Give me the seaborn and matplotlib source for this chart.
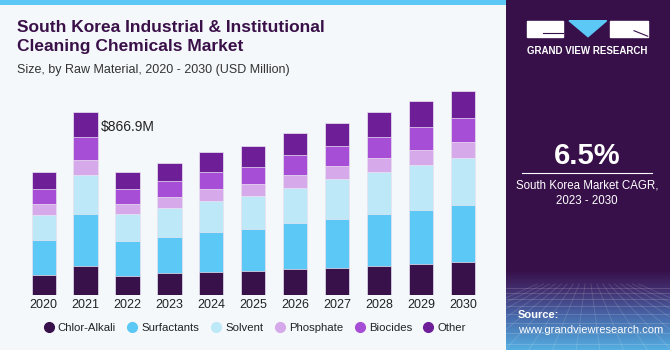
import numpy as np
import pandas as pd
import matplotlib
matplotlib.use('Agg')
import matplotlib.pyplot as plt
import seaborn as sns
from matplotlib.patches import Rectangle, Polygon
from matplotlib.lines import Line2D
from matplotlib.colors import to_rgb

# data (USD Million)
years = ['2020', '2021', '2022', '2023', '2024', '2025', '2026', '2027', '2028', '2029', '2030']
chlor_alkali = [94.6, 138.6, 91.3, 102.6, 108.8, 113.5, 123.0, 129.1, 138.6, 146.6, 154.7]
surfactants = [165.6, 244.5, 164.1, 173.6, 189.2, 198.7, 219.0, 231.8, 244.5, 256.8, 272.9]
solvent = [116.8, 184.5, 127.7, 137.2, 146.6, 154.7, 165.6, 187.8, 197.2, 212.9, 220.9]
phosphate = [52.0, 71.0, 45.9, 48.7, 55.3, 56.8, 60.1, 61.5, 66.2, 67.6, 74.3]
biocides = [72.4, 107.4, 71.0, 77.1, 83.7, 83.7, 94.6, 96.0, 102.6, 110.2, 113.5]
other = [80.4, 120.9, 81.8, 83.7, 91.3, 97.9, 105.5, 107.4, 114.9, 123.0, 129.1]

segments = ['Chlor-Alkali', 'Surfactants', 'Solvent', 'Phosphate', 'Biocides', 'Other']
colors = ['#38104a', '#5bc8f5', '#bde8f8', '#d5a9ea', '#a64fd6', '#6e1f98']
label_year = '2021'
label_text = '$866.9M'

df = pd.DataFrame({'year': years, 'Chlor-Alkali': chlor_alkali, 'Surfactants': surfactants,
                   'Solvent': solvent, 'Phosphate': phosphate, 'Biocides': biocides, 'Other': other})
cum = df[segments].cumsum(axis=1)

bg = '#f4f8fb'
dark = '#3a1048'
plt.rcParams['font.family'] = ['Liberation Sans', 'DejaVu Sans']

fig = plt.figure(figsize=(6.7, 3.5), dpi=100, facecolor=bg)
W, H = 670, 350

# chart axes
ax = fig.add_axes([22.75 / W, 1 - 295 / H, 461 / W, 211.4 / H])
ax.set_facecolor(bg)
# stacked bars: draw cumulative totals from the top layer down
for seg, col in zip(segments[::-1], colors[::-1]):
    sns.barplot(x=df['year'], y=cum[seg], color=col, saturation=1, width=0.58, errorbar=None,
                edgecolor='#ece6f2', linewidth=0.5, ax=ax, order=years)
ax.set_xlim(-0.5, 10.5)
ax.set_ylim(0, 1000)
ax.set_xlabel('')
ax.set_ylabel('')
ax.set_yticks([])
ax.tick_params(axis='x', length=0, pad=3, labelsize=9, labelcolor='#222222')
for s in ax.spines.values():
    s.set_visible(False)
i = years.index(label_year)
ax.annotate(label_text, xy=(i + 0.37, cum['Other'][i] - 70), xycoords='data',
            fontsize=10, color='#222222', ha='left', va='center')

# legend
handles = [Line2D([], [], marker='o', linestyle='', markersize=7, markerfacecolor=c,
                  markeredgecolor=c) for c in colors]
fig.legend(handles, segments, loc='center', bbox_to_anchor=(255 / W, 1 - 328 / H), ncol=6,
           frameon=False, fontsize=8.2, handlelength=0.8, handletextpad=0.4, columnspacing=1.05,
           labelcolor='#222222')

# title block
fig.text(17 / W, 1 - 27 / H, 'South Korea Industrial & Institutional', fontsize=12.5,
         fontweight='bold', color=dark, va='center')
fig.text(17 / W, 1 - 47 / H, 'Cleaning Chemicals Market', fontsize=12.5,
         fontweight='bold', color=dark, va='center')
fig.text(17 / W, 1 - 70 / H, 'Size, by Raw Material, 2020 - 2030 (USD Million)', fontsize=9,
         color='#333333', va='center')

# top accent bar
top = fig.add_axes([0, 1 - 5 / H, 506 / W, 5 / H])
top.axis('off')
top.add_patch(Rectangle((0, 0), 1, 1, color='#5bc8f5', transform=top.transAxes))

# right panel
p = fig.add_axes([506 / W, 0, 164 / W, 1])
p.axis('off')
stops = [(0, '#37104a'), (270, '#37104a'), (290, '#433070'), (315, '#4766a8'), (350, '#55b0e2')]
grad = np.zeros((350, 1, 3))
ys = [s[0] for s in stops]
for k in range(3):
    grad[:, 0, k] = np.interp(np.arange(350), ys, [to_rgb(s[1])[k] for s in stops])
p.imshow(grad, extent=(0, 164, 350, 0), aspect='auto')
# faint floor grid
for y0 in [288, 293, 299, 306, 314, 323, 333, 344]:
    p.plot([0, 164], [y0, y0], color='white', alpha=0.18, lw=0.6)
for xb in np.linspace(-120, 284, 18):
    p.plot([82 + (xb - 82) * 0.25, xb], [284, 350], color='white', alpha=0.15, lw=0.6)
p.set_xlim(0, 164)
p.set_ylim(350, 0)

# logo
p.add_patch(Rectangle((20.7, 20.7), 36, 16, color='white'))
p.plot([37, 56.7], [32.5, 32.5], color='#37104a', lw=0.8)
p.add_patch(Polygon([(63, 20.7), (100.7, 20.7), (82, 36.7)], color='#5bc8f5'))
p.add_patch(Rectangle((104, 20.7), 37.7, 16, color='white'))
p.plot([128, 141.7], [30.7, 36.2], color='#37104a', lw=0.8)
p.text(81, 51, 'GRAND VIEW RESEARCH', color='white', fontsize=7, fontweight='bold',
       ha='center', va='center')

p.text(81, 156, '6.5%', color='white', fontsize=21, fontweight='bold', ha='center', va='center')
p.plot([16, 146], [173.3, 173.3], color='white', lw=0.8)
p.text(81, 186, 'South Korea Market CAGR,', color='white', fontsize=8.3, ha='center', va='center')
p.text(81, 201, '2023 - 2030', color='white', fontsize=8.3, ha='center', va='center')
p.text(12, 315, 'Source:', color='white', fontsize=8, fontweight='bold', ha='left', va='center')
p.text(12, 330, 'www.grandviewresearch.com', color='white', fontsize=8, ha='left', va='center')

plt.savefig('out.png', dpi=100, facecolor=bg)
